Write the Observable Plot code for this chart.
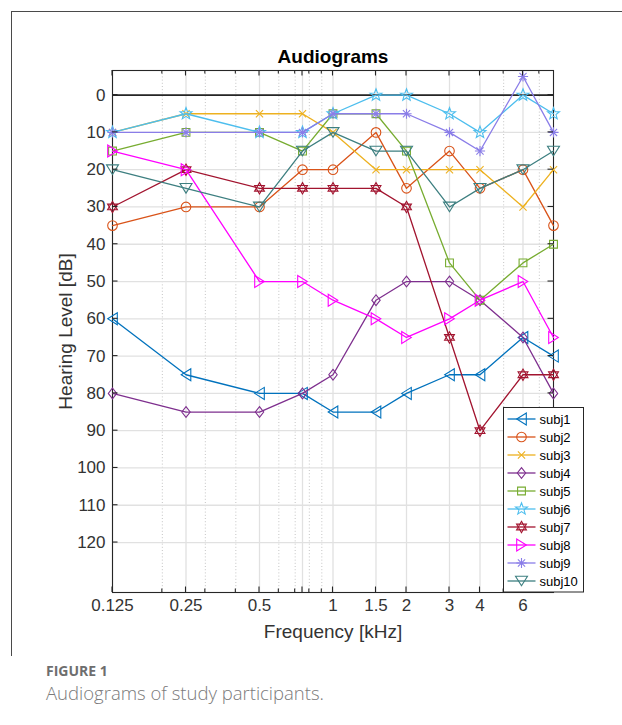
<!DOCTYPE html>
<html>
<head>
<meta charset="utf-8">
<script src="https://cdn.jsdelivr.net/npm/d3@7"></script>
<script src="https://cdn.jsdelivr.net/npm/@observablehq/plot@0.6"></script>
<style>
  html, body { margin: 0; padding: 0; background: #fff; }
  body { width: 622px; height: 725px; position: relative; overflow: hidden; }
  #chart { position: absolute; left: 0; top: 0; }
  #pageTop { position: absolute; left: 12px; top: 11px; width: 620px; height: 0; border-top: 1.2px solid #4a4a4a; }
  #pageLeft { position: absolute; left: 11px; top: 11px; width: 0; height: 645px; border-left: 1.2px solid #4a4a4a; }
  #figLabel { position: absolute; left: 46px; top: 661px; font-family: "Open Sans", "Noto Sans", sans-serif; font-weight: 700; font-size: 14px; line-height: 20px; color: #6e6e6e; letter-spacing: 0; }
  #figCaption { position: absolute; left: 46px; top: 680px; font-family: "Open Sans", "Noto Sans", sans-serif; font-weight: 300; font-size: 18.5px; line-height: 25px; color: #7a7a7a; }
</style>
</head>
<body>
<div id="chart"></div>
<div id="pageTop"></div>
<div id="pageLeft"></div>
<div id="figLabel">FIGURE 1</div>
<div id="figCaption">Audiograms of study participants.</div>
<script>
// ---------- data ----------
const frequencies = [0.125, 0.25, 0.5, 0.75, 1, 1.5, 2, 3, 4, 6, 8];
const subjects = ["subj1", "subj2", "subj3", "subj4", "subj5", "subj6", "subj7", "subj8", "subj9", "subj10"];
const subj1  = [60, 75, 80, 80, 85, 85, 80, 75, 75, 65, 70];
const subj2  = [35, 30, 30, 20, 20, 10, 25, 15, 25, 20, 35];
const subj3  = [10, 5, 5, 5, 10, 20, 20, 20, 20, 30, 20];
const subj4  = [80, 85, 85, 80, 75, 55, 50, 50, 55, 65, 80];
const subj5  = [15, 10, 10, 15, 5, 5, 15, 45, 55, 45, 40];
const subj6  = [10, 5, 10, 10, 5, 0, 0, 5, 10, 0, 5];
const subj7  = [30, 20, 25, 25, 25, 25, 30, 65, 90, 75, 75];
const subj8  = [15, 20, 50, 50, 55, 60, 65, 60, 55, 50, 65];
const subj9  = [10, 10, 10, 10, 5, 5, 5, 10, 15, -5, 10];
const subj10 = [20, 25, 30, 15, 10, 15, 15, 30, 25, 20, 15];
const seriesValues = [subj1, subj2, subj3, subj4, subj5, subj6, subj7, subj8, subj9, subj10];
const seriesColors = ["#0072BD", "#D95319", "#EDB120", "#7E2F8E", "#77AC30", "#4DBEEE", "#A2142F", "#FF00FF", "#8A7DE8", "#3D7F80"];
const xTickValues = [0.125, 0.25, 0.5, 0.75, 1, 1.5, 2, 3, 4, 6];
const xTickLabels = ["0.125", "0.25", "0.5", "0.75", "1", "1.5", "2", "3", "4", "6"];
const xMinorTicks = [0.2, 0.3, 0.4, 0.6, 0.7, 0.8, 0.9, 5, 7];
const yTickValues = [0, 10, 20, 30, 40, 50, 60, 70, 80, 90, 100, 110, 120];
const titleText = "Audiograms";
const xLabelText = "Frequency [kHz]";
const yLabelText = "Hearing Level [dB]";

// ---------- MATLAB-like marker shapes ----------
function sym(fn) { return { draw(c, size) { fn(c, Math.sqrt(size / Math.PI)); } }; }
const symTriLeft  = sym((c, R) => { c.moveTo(-0.8 * R, 0); c.lineTo(0.8 * R, -R); c.lineTo(0.8 * R, R); c.closePath(); });
const symTriRight = sym((c, R) => { c.moveTo(0.8 * R, 0); c.lineTo(-0.8 * R, -R); c.lineTo(-0.8 * R, R); c.closePath(); });
const symTriDown  = sym((c, R) => { c.moveTo(0, 0.8 * R); c.lineTo(-R, -0.8 * R); c.lineTo(R, -0.8 * R); c.closePath(); });
const symCircle   = sym((c, R) => { const r = 0.8 * R; c.moveTo(r, 0); c.arc(0, 0, r, 0, 2 * Math.PI); c.closePath(); });
const symX        = sym((c, R) => { const a = 0.6 * R; c.moveTo(-a, -a); c.lineTo(a, a); c.moveTo(-a, a); c.lineTo(a, -a); });
const symDiamond  = sym((c, R) => { c.moveTo(0, -0.9 * R); c.lineTo(0.7 * R, 0); c.lineTo(0, 0.9 * R); c.lineTo(-0.7 * R, 0); c.closePath(); });
const symSquare   = sym((c, R) => { const a = 0.65 * R; c.moveTo(-a, -a); c.lineTo(a, -a); c.lineTo(a, a); c.lineTo(-a, a); c.closePath(); });
const symPenta    = sym((c, R) => {
  const ro = 1.05 * R, ri = ro * 0.42;
  for (let k = 0; k < 10; k++) {
    const r = k % 2 ? ri : ro, t = -Math.PI / 2 + k * Math.PI / 5;
    const px = r * Math.cos(t), py = r * Math.sin(t);
    if (k) c.lineTo(px, py); else c.moveTo(px, py);
  }
  c.closePath();
});
const symHexa     = sym((c, R) => {
  const ro = 0.95 * R;
  for (const off of [-Math.PI / 2, Math.PI / 2]) {
    for (let k = 0; k < 3; k++) {
      const t = off + k * 2 * Math.PI / 3, px = ro * Math.cos(t), py = ro * Math.sin(t);
      if (k) c.lineTo(px, py); else c.moveTo(px, py);
    }
    c.closePath();
  }
});
const symAster    = sym((c, R) => {
  const a = 0.85 * R, b = a * 0.7071;
  c.moveTo(-a, 0); c.lineTo(a, 0); c.moveTo(0, -a); c.lineTo(0, a);
  c.moveTo(-b, -b); c.lineTo(b, b); c.moveTo(-b, b); c.lineTo(b, -b);
});
const seriesSymbols = [symTriLeft, symCircle, symX, symDiamond, symSquare, symPenta, symHexa, symTriRight, symAster, symTriDown];
const markerR = 6;

// ---------- build tables ----------
const tables = subjects.map((name, si) => frequencies.map((f, i) => ({ subject: name, freq: f, level: seriesValues[si][i] })));

const dataMarks = [];
tables.forEach((tbl, si) => {
  dataMarks.push(Plot.line(tbl, { x: "freq", y: "level", stroke: seriesColors[si], strokeWidth: 1.3 }));
  dataMarks.push(Plot.dot(tbl, { x: "freq", y: "level", stroke: seriesColors[si], fill: "none", strokeWidth: 1.1, r: markerR, symbol: seriesSymbols[si] }));
});

const plot = Plot.plot({
  width: 622,
  height: 650,
  marginLeft: 112,
  marginRight: 69,
  marginTop: 70,
  marginBottom: 58,
  style: { fontFamily: "'Liberation Sans', Arial, Helvetica, sans-serif", fontSize: "17px", color: "#333", background: "transparent" },
  x: { type: "log", domain: [0.125, 8] },
  y: { domain: [-6.6, 133.4], reverse: true },
  marks: [
    Plot.gridX({ ticks: xMinorTicks, stroke: "#c4c4c4", strokeOpacity: 1, strokeWidth: 1, strokeDasharray: "1,2.2" }),
    Plot.gridX({ ticks: xTickValues, stroke: "#e1e1e1", strokeOpacity: 1, strokeWidth: 1.3 }),
    Plot.gridY({ ticks: yTickValues, stroke: "#e1e1e1", strokeOpacity: 1, strokeWidth: 1.3 }),
    Plot.ruleY([0], { stroke: "#262626", strokeWidth: 1.6 }),
    Plot.frame({ stroke: "#262626", strokeWidth: 1.1 }),
    Plot.axisX({ ticks: xTickValues, tickFormat: d => xTickLabels[xTickValues.indexOf(d)], tickSize: 0, tickPadding: 6, label: null, fontSize: 17 }),
    Plot.axisY({ ticks: yTickValues, tickSize: 0, tickPadding: 7, label: null, fontSize: 17 }),
    Plot.text([titleText], { frameAnchor: "top", lineAnchor: "middle", textAnchor: "middle", dy: -14, fontWeight: "bold", fontSize: 19, fill: "#000" }),
    Plot.text([xLabelText], { frameAnchor: "bottom", lineAnchor: "middle", textAnchor: "middle", dy: 39, fontSize: 19, fill: "#333" }),
    Plot.text([yLabelText], { frameAnchor: "left", lineAnchor: "middle", textAnchor: "middle", dx: -47, rotate: -90, fontSize: 19, fill: "#333" }),
    ...dataMarks
  ]
});

document.getElementById("chart").appendChild(plot);

// ---------- inward ticks on all four sides (MATLAB box style) ----------
const svgSel = d3.select(plot);
const xs = plot.scale("x"), ys = plot.scale("y");
const frameLeft = Math.min(...xs.range), frameRight = Math.max(...xs.range);
const frameTop = Math.min(...ys.range), frameBottom = Math.max(...ys.range);
const tickG = svgSel.append("g").attr("stroke", "#262626").attr("stroke-width", 1.1);
const xTickSet = xTickValues.map(v => [v, 5.5]).concat(xMinorTicks.map(v => [v, 3.5]));
xTickSet.forEach(([v, len]) => {
  const px = xs.apply(v);
  tickG.append("line").attr("x1", px).attr("x2", px).attr("y1", frameBottom).attr("y2", frameBottom - len);
  tickG.append("line").attr("x1", px).attr("x2", px).attr("y1", frameTop).attr("y2", frameTop + len);
});
yTickValues.forEach(v => {
  const py = ys.apply(v);
  tickG.append("line").attr("x1", frameLeft).attr("x2", frameLeft + 5.5).attr("y1", py).attr("y2", py);
  tickG.append("line").attr("x1", frameRight).attr("x2", frameRight - 5.5).attr("y1", py).attr("y2", py);
});

// ---------- legend box ----------
const lg = svgSel.append("g")
  .attr("font-family", "'Liberation Sans', Arial, Helvetica, sans-serif")
  .attr("font-size", 13)
  .attr("text-anchor", "start");
const lgX = 503.5, lgY = 407.5, lgW = 80, lgH = frameBottom - 407.5, rowH = 18;
lg.append("rect").attr("x", lgX).attr("y", lgY).attr("width", lgW).attr("height", lgH)
  .attr("fill", "#fff").attr("stroke", "#262626").attr("stroke-width", 1);
subjects.forEach((name, i) => {
  const cy = lgY + 11.5 + i * rowH;
  lg.append("line").attr("x1", lgX + 4).attr("x2", lgX + 32).attr("y1", cy).attr("y2", cy)
    .attr("stroke", seriesColors[i]).attr("stroke-width", 1.3);
  lg.append("path").attr("d", d3.symbol(seriesSymbols[i], markerR * markerR * Math.PI)())
    .attr("transform", `translate(${lgX + 18},${cy})`)
    .attr("fill", "none").attr("stroke", seriesColors[i]).attr("stroke-width", 1.1);
  lg.append("text").attr("x", lgX + 36).attr("y", cy + 4.6).attr("text-anchor", "start").attr("fill", "#000").text(name);
});
</script>
</body>
</html>
